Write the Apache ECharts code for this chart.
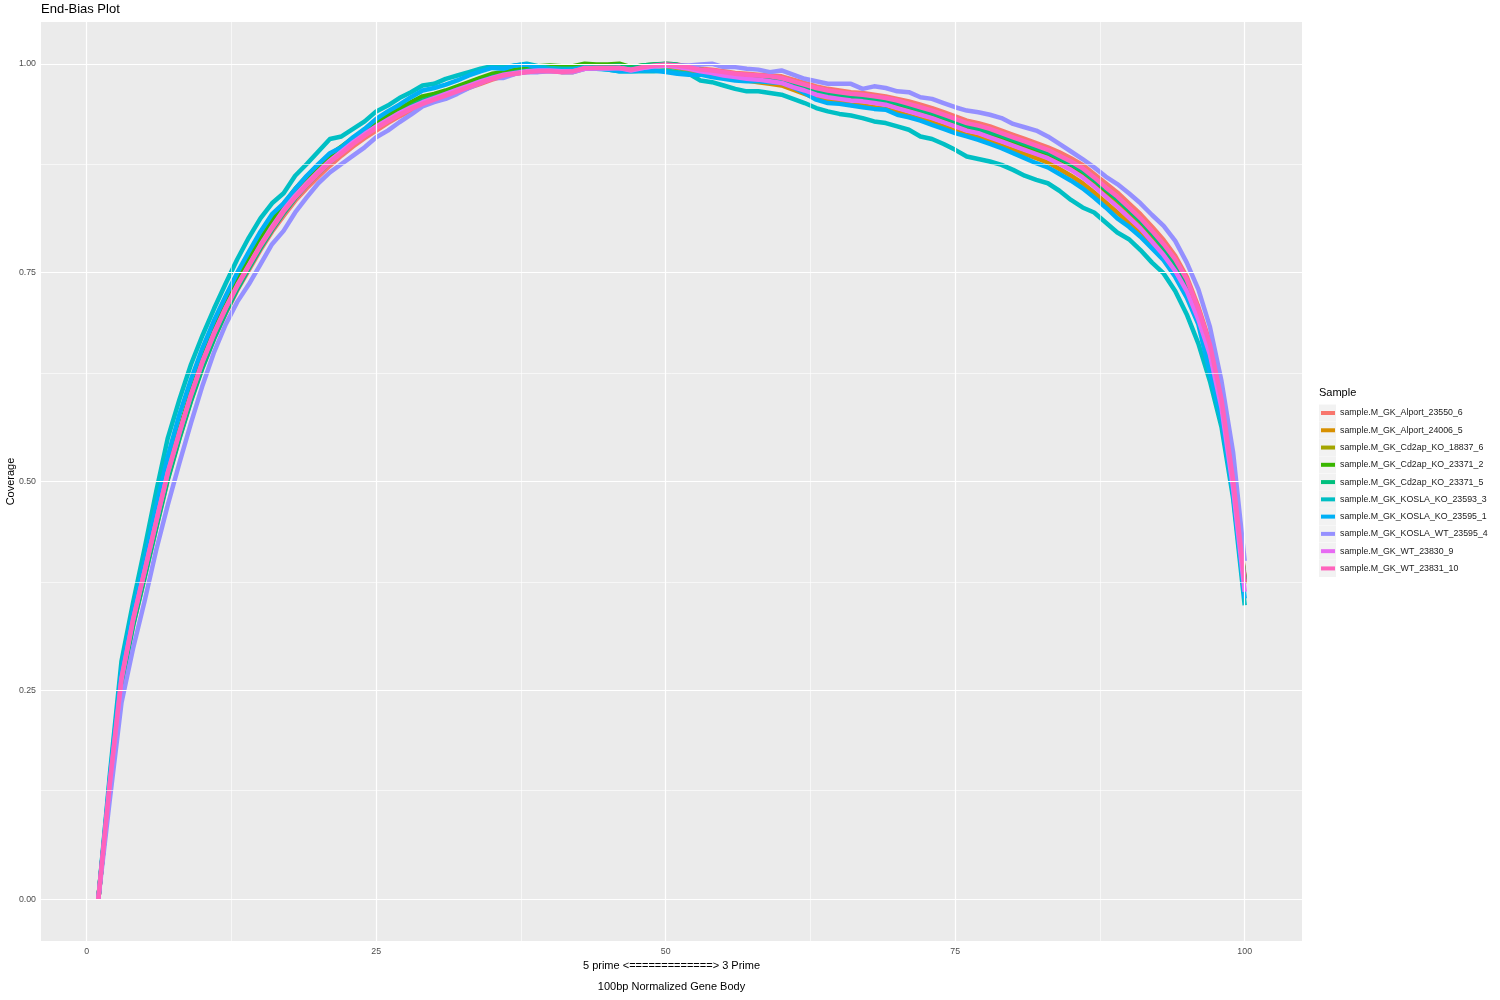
<!DOCTYPE html>
<html><head><meta charset="utf-8">
<script src="https://cdn.jsdelivr.net/npm/echarts@6/dist/echarts.min.js"></script>
<style>html,body{margin:0;padding:0;background:#fff}#c{width:1500px;height:1000px}</style>
</head><body><div id="c"></div>
<script>
// ---- data ----
const bins = [1,2,3,4,5,6,7,8,9,10,11,12,13,14,15,16,17,18,19,20,21,22,23,24,25,26,27,28,29,30,31,32,33,34,35,36,37,38,39,40,41,42,43,44,45,46,47,48,49,50,51,52,53,54,55,56,57,58,59,60,61,62,63,64,65,66,67,68,69,70,71,72,73,74,75,76,77,78,79,80,81,82,83,84,85,86,87,88,89,90,91,92,93,94,95,96,97,98,99,100];

const sampleNames = [
  'sample.M_GK_Alport_23550_6','sample.M_GK_Alport_24006_5','sample.M_GK_Cd2ap_KO_18837_6',
  'sample.M_GK_Cd2ap_KO_23371_2','sample.M_GK_Cd2ap_KO_23371_5','sample.M_GK_KOSLA_KO_23593_3',
  'sample.M_GK_KOSLA_KO_23595_1','sample.M_GK_KOSLA_WT_23595_4','sample.M_GK_WT_23830_9','sample.M_GK_WT_23831_10'
];
const sampleColors = ['#F8766D','#D89000','#A3A500','#39B600','#00BF7D','#00BFC4','#00B0F6','#9590FF','#E76BF3','#FF62BC'];

const alport_23550_6 = [0.000,0.135,0.258,0.328,0.386,0.445,0.503,0.552,0.597,0.637,
0.671,0.701,0.729,0.753,0.777,0.799,0.818,0.836,0.851,0.865,
0.878,0.890,0.901,0.911,0.920,0.929,0.937,0.944,0.950,0.956,
0.961,0.966,0.971,0.976,0.981,0.985,0.988,0.990,0.991,0.992,
0.990,0.990,0.994,0.995,0.995,0.996,0.993,0.996,0.998,1.000,
0.999,0.997,0.994,0.993,0.991,0.989,0.988,0.987,0.986,0.985,
0.981,0.977,0.973,0.970,0.968,0.966,0.965,0.963,0.961,0.958,
0.955,0.951,0.947,0.942,0.937,0.932,0.929,0.925,0.920,0.915,
0.910,0.905,0.900,0.894,0.887,0.879,0.868,0.857,0.846,0.833,
0.820,0.805,0.789,0.770,0.745,0.709,0.666,0.600,0.505,0.385];

const alport_24006_5 = [0.000,0.138,0.262,0.333,0.392,0.452,0.511,0.560,0.605,0.645,
0.680,0.711,0.739,0.764,0.788,0.810,0.830,0.848,0.862,0.876,
0.889,0.898,0.908,0.917,0.926,0.934,0.942,0.949,0.955,0.960,
0.965,0.970,0.975,0.980,0.985,0.988,0.990,0.992,0.993,0.993,
0.992,0.992,0.996,0.996,0.995,0.995,0.993,0.995,0.997,0.997,
0.995,0.992,0.989,0.987,0.984,0.982,0.980,0.978,0.976,0.974,
0.969,0.964,0.959,0.956,0.954,0.951,0.950,0.948,0.946,0.942,
0.938,0.934,0.930,0.925,0.920,0.915,0.912,0.907,0.902,0.897,
0.892,0.887,0.882,0.874,0.866,0.857,0.846,0.834,0.822,0.810,
0.798,0.784,0.768,0.750,0.726,0.694,0.645,0.585,0.490,0.378];

const cd2ap_18837_6 = [0.000,0.137,0.260,0.331,0.390,0.449,0.508,0.557,0.602,0.642,
0.677,0.708,0.736,0.761,0.785,0.807,0.827,0.845,0.860,0.874,
0.887,0.897,0.907,0.916,0.925,0.934,0.942,0.949,0.955,0.960,
0.965,0.970,0.975,0.980,0.985,0.988,0.990,0.992,0.993,0.994,
0.993,0.993,0.997,0.997,0.997,0.997,0.994,0.996,0.998,0.998,
0.997,0.994,0.991,0.990,0.987,0.985,0.984,0.982,0.981,0.979,
0.975,0.970,0.966,0.963,0.961,0.958,0.957,0.955,0.953,0.950,
0.946,0.942,0.938,0.933,0.928,0.923,0.920,0.916,0.911,0.906,
0.901,0.896,0.891,0.884,0.877,0.868,0.857,0.845,0.834,0.821,
0.808,0.794,0.778,0.760,0.736,0.701,0.657,0.593,0.498,0.380];

const cd2ap_23371_2 = [0.000,0.140,0.264,0.335,0.394,0.454,0.513,0.562,0.607,0.647,
0.682,0.713,0.741,0.766,0.790,0.812,0.832,0.850,0.865,0.879,
0.891,0.901,0.911,0.921,0.930,0.938,0.946,0.954,0.961,0.964,
0.968,0.973,0.978,0.983,0.988,0.990,0.993,0.995,0.997,0.998,
0.997,0.997,1.000,0.999,0.999,1.000,0.996,0.998,0.999,0.999,
0.997,0.995,0.992,0.990,0.988,0.986,0.984,0.983,0.982,0.980,
0.976,0.972,0.968,0.965,0.963,0.961,0.959,0.957,0.955,0.952,
0.948,0.944,0.940,0.935,0.930,0.925,0.921,0.917,0.912,0.907,
0.902,0.897,0.892,0.886,0.879,0.871,0.861,0.849,0.838,0.825,
0.812,0.797,0.781,0.762,0.738,0.703,0.660,0.595,0.500,0.383];

const cd2ap_23371_5 = [0.000,0.134,0.256,0.327,0.385,0.444,0.502,0.551,0.596,0.636,
0.671,0.702,0.730,0.755,0.779,0.801,0.821,0.839,0.855,0.869,
0.882,0.894,0.905,0.915,0.924,0.933,0.941,0.949,0.956,0.960,
0.964,0.969,0.974,0.979,0.984,0.987,0.990,0.992,0.993,0.994,
0.992,0.993,0.996,0.997,0.997,0.998,0.995,0.998,0.999,1.000,
0.999,0.996,0.993,0.991,0.989,0.987,0.986,0.984,0.983,0.981,
0.977,0.972,0.968,0.965,0.963,0.961,0.960,0.958,0.956,0.953,
0.949,0.945,0.941,0.936,0.931,0.926,0.922,0.918,0.914,0.909,
0.904,0.899,0.894,0.887,0.880,0.872,0.861,0.850,0.838,0.825,
0.812,0.797,0.780,0.761,0.737,0.702,0.659,0.594,0.499,0.381];

const kosla_ko_23593_3 = [0.000,0.150,0.285,0.355,0.420,0.488,0.552,0.598,0.640,0.675,
0.707,0.737,0.766,0.792,0.815,0.833,0.845,0.866,0.880,0.895,
0.910,0.913,0.922,0.931,0.943,0.950,0.959,0.966,0.974,0.976,
0.982,0.986,0.990,0.994,0.997,0.996,0.998,1.000,0.997,0.995,
0.994,0.994,0.996,0.995,0.993,0.991,0.991,0.991,0.991,0.992,
0.990,0.988,0.980,0.978,0.974,0.970,0.967,0.967,0.965,0.963,
0.958,0.953,0.947,0.943,0.940,0.938,0.935,0.931,0.929,0.925,
0.921,0.913,0.910,0.904,0.897,0.889,0.886,0.883,0.879,0.873,
0.866,0.861,0.857,0.848,0.837,0.828,0.822,0.810,0.798,0.790,
0.777,0.762,0.749,0.728,0.700,0.665,0.620,0.565,0.480,0.352];

const kosla_ko_23595_1 = [0.000,0.145,0.275,0.345,0.405,0.470,0.530,0.580,0.622,0.660,
0.693,0.722,0.750,0.775,0.799,0.820,0.833,0.850,0.866,0.880,
0.893,0.900,0.912,0.922,0.934,0.943,0.951,0.960,0.968,0.971,
0.975,0.980,0.986,0.991,0.995,0.994,0.998,0.999,0.995,0.993,
0.992,0.993,0.995,0.994,0.993,0.991,0.991,0.992,0.992,0.990,
0.988,0.987,0.987,0.984,0.982,0.980,0.979,0.979,0.978,0.977,
0.972,0.965,0.957,0.953,0.952,0.950,0.948,0.946,0.945,0.939,
0.936,0.932,0.927,0.922,0.917,0.913,0.909,0.904,0.899,0.893,
0.887,0.881,0.876,0.868,0.860,0.851,0.840,0.828,0.815,0.805,
0.793,0.779,0.765,0.745,0.720,0.688,0.630,0.575,0.485,0.360];

const kosla_wt_23595_4 = [0.000,0.120,0.235,0.300,0.357,0.418,0.472,0.522,0.570,0.615,
0.655,0.688,0.715,0.736,0.760,0.784,0.800,0.822,0.840,0.857,
0.870,0.880,0.890,0.900,0.912,0.920,0.930,0.939,0.949,0.954,
0.958,0.964,0.971,0.977,0.983,0.983,0.988,0.990,0.990,0.991,
0.990,0.990,0.994,0.994,0.994,0.995,0.993,0.995,0.997,0.998,
0.998,0.998,0.999,1.000,0.996,0.996,0.994,0.993,0.990,0.992,
0.987,0.982,0.979,0.976,0.976,0.976,0.970,0.973,0.971,0.967,
0.966,0.960,0.958,0.953,0.948,0.944,0.942,0.939,0.935,0.928,
0.924,0.920,0.913,0.904,0.895,0.886,0.876,0.865,0.856,0.845,
0.833,0.819,0.806,0.788,0.762,0.730,0.685,0.620,0.535,0.405];

const wt_23830_9 = [0.000,0.139,0.263,0.334,0.393,0.452,0.511,0.559,0.604,0.644,
0.678,0.708,0.735,0.759,0.783,0.805,0.825,0.842,0.857,0.871,
0.884,0.895,0.906,0.916,0.925,0.933,0.941,0.948,0.954,0.959,
0.964,0.969,0.974,0.979,0.983,0.987,0.989,0.991,0.992,0.992,
0.991,0.991,0.994,0.995,0.995,0.995,0.992,0.995,0.997,0.998,
0.996,0.994,0.991,0.989,0.986,0.984,0.982,0.981,0.979,0.977,
0.972,0.968,0.963,0.960,0.958,0.956,0.955,0.953,0.951,0.947,
0.943,0.939,0.935,0.930,0.925,0.920,0.917,0.912,0.907,0.902,
0.897,0.892,0.887,0.880,0.873,0.864,0.853,0.841,0.829,0.816,
0.803,0.787,0.771,0.752,0.728,0.694,0.652,0.588,0.492,0.368];

const wt_23831_10 = [0.000,0.140,0.265,0.335,0.393,0.452,0.510,0.558,0.603,0.643,
0.677,0.707,0.734,0.758,0.782,0.803,0.823,0.840,0.855,0.869,
0.882,0.893,0.904,0.914,0.923,0.931,0.939,0.946,0.952,0.957,
0.962,0.967,0.972,0.977,0.982,0.986,0.988,0.990,0.991,0.991,
0.990,0.991,0.995,0.995,0.995,0.995,0.993,0.996,0.998,0.999,
0.998,0.996,0.993,0.992,0.990,0.988,0.987,0.986,0.985,0.983,
0.979,0.975,0.971,0.968,0.966,0.964,0.963,0.961,0.959,0.956,
0.952,0.948,0.944,0.939,0.934,0.929,0.926,0.922,0.917,0.912,
0.907,0.902,0.897,0.890,0.883,0.875,0.864,0.852,0.841,0.828,
0.815,0.800,0.784,0.766,0.742,0.706,0.664,0.598,0.502,0.380];

const coverageBySample = [alport_23550_6, alport_24006_5, cd2ap_18837_6, cd2ap_23371_2, cd2ap_23371_5,
  kosla_ko_23593_3, kosla_ko_23595_1, kosla_wt_23595_4, wt_23830_9, wt_23831_10];

const xMajorTicks = [0, 25, 50, 75, 100];
const xMinorTicks = [12.5, 37.5, 62.5, 87.5];
const yMajorTicks = [0, 0.25, 0.5, 0.75, 1];
const yMinorTicks = [0.125, 0.375, 0.625, 0.875];

// ---- chart ----
const FONT = '"Liberation Sans", Arial, Helvetica, sans-serif';
const chart = echarts.init(document.getElementById('c'), null, {renderer: 'canvas'});

const gridLineData = []
  .concat(xMinorTicks.map(v => ({xAxis: v, lineStyle: {width: 0.6}})))
  .concat(yMinorTicks.map(v => ({yAxis: v, lineStyle: {width: 0.6}})))
  .concat(xMajorTicks.map(v => ({xAxis: v, lineStyle: {width: 1.2}})))
  .concat(yMajorTicks.map(v => ({yAxis: v, lineStyle: {width: 1.2}})));

const series = [{
  type: 'line', name: '__grid', data: [], z: 1, silent: true,
  markLine: {
    silent: true, symbol: ['none', 'none'], animation: false,
    label: {show: false},
    lineStyle: {color: '#FFFFFF', type: 'solid', width: 1.2},
    emphasis: {disabled: true},
    data: gridLineData
  }
}];
sampleNames.forEach((name, i) => {
  series.push({
    type: 'line', name: name, z: 2,
    data: bins.map((b, j) => [b, coverageBySample[i][j]]),
    showSymbol: false, symbol: 'none', smooth: false,
    lineStyle: {width: 4.5, color: sampleColors[i], cap: 'butt', join: 'round'},
    itemStyle: {color: sampleColors[i]},
    emphasis: {disabled: true},
    animation: false
  });
});

const legendTop = 407;
const legendPitch = 17.27;
const keyRects = sampleNames.map((n, i) => ({
  type: 'rect', z: -1,
  shape: {x: 1319, y: legendTop + 6 - 8.5 + i * legendPitch, width: 17, height: 17},
  style: {fill: '#F2F2F2'}
}));

chart.setOption({
  animation: false,
  backgroundColor: '#FFFFFF',
  textStyle: {fontFamily: FONT},
  title: [
    {text: 'End-Bias Plot', left: 41, top: 3, padding: 0,
     textStyle: {fontSize: 13, fontWeight: 'normal', color: '#000', fontFamily: FONT}},
    {text: '100bp Normalized Gene Body', left: 671.5, textAlign: 'center', top: 981, padding: 0,
     textStyle: {fontSize: 11, fontWeight: 'normal', color: '#000', fontFamily: FONT}},
    {text: 'Sample', left: 1319, top: 387, padding: 0,
     textStyle: {fontSize: 11, fontWeight: 'normal', color: '#000', fontFamily: FONT}}
  ],
  graphic: keyRects,
  legend: {
    orient: 'vertical', left: 1321, top: legendTop, padding: 0,
    data: sampleNames, icon: 'rect', itemWidth: 14, itemHeight: 4,
    itemGap: legendPitch - 12,
    selectedMode: false,
    textStyle: {fontSize: 8.8, color: '#1A1A1A', lineHeight: 12, fontFamily: FONT}
  },
  grid: {left: 41, right: 198, top: 22, bottom: 59, show: true, backgroundColor: '#EBEBEB', borderWidth: 0,
    containLabel: false, outerBoundsMode: 'none'},
  xAxis: {
    type: 'value', min: -3.95, max: 104.95,
    name: '5 prime <=============> 3 Prime', nameLocation: 'middle', nameGap: 18,
    nameTextStyle: {fontSize: 11, color: '#000', fontFamily: FONT},
    axisLine: {show: false},
    axisTick: {show: true, length: 3.5, customValues: xMajorTicks, lineStyle: {color: '#333333', width: 1}},
    axisLabel: {customValues: xMajorTicks, fontSize: 8.8, color: '#4D4D4D', margin: 6, fontFamily: FONT},
    splitLine: {show: false}, minorSplitLine: {show: false}
  },
  yAxis: {
    type: 'value', min: -0.05, max: 1.05,
    name: 'Coverage', nameLocation: 'middle', nameGap: 25, nameRotate: 90, nameMoveOverlap: false,
    nameTextStyle: {fontSize: 11, color: '#000', fontFamily: FONT},
    axisLine: {show: false},
    axisTick: {show: true, length: 3.5, customValues: yMajorTicks, lineStyle: {color: '#333333', width: 1}},
    axisLabel: {customValues: yMajorTicks, fontSize: 8.8, color: '#4D4D4D', margin: 5, fontFamily: FONT,
      formatter: v => v.toFixed(2)},
    splitLine: {show: false}, minorSplitLine: {show: false}
  },
  series: series
});
</script>
</body></html>
